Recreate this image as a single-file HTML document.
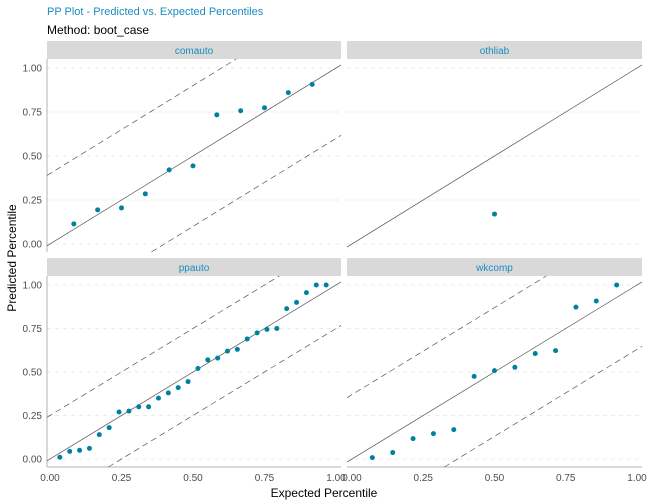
<!DOCTYPE html>
<html><head><meta charset="utf-8"><style>
html,body{margin:0;padding:0;background:#fff;font-family:"Liberation Sans",sans-serif;width:648px;height:504px;overflow:hidden;position:relative}
svg{display:block;position:absolute;left:0;top:0;overflow:hidden}
</style></head><body>
<svg id="chart" width="648" height="504" viewBox="0 0 648 504" xmlns="http://www.w3.org/2000/svg" font-family="Liberation Sans, sans-serif">
<text x="47" y="15" font-size="11" fill="#1a8cbf">PP Plot - Predicted vs. Expected Percentiles</text>
<text x="47" y="34" font-size="12" fill="#000">Method: boot_case</text>
<text x="324" y="497" font-size="12" text-anchor="middle" fill="#000">Expected Percentile</text>
<text transform="translate(16,258) rotate(-90)" font-size="12" text-anchor="middle" fill="#000">Predicted Percentile</text>
</svg>
<script>
const panelNames = ["comauto","othliab","ppauto","wkcomp"];
const bandOffsets = [0.40, null, 0.25, 0.37];
const yTicks = [0, 0.25, 0.5, 0.75, 1];
const yTickLabels = ["0.00","0.25","0.50","0.75","1.00"];
const xTickLabels = ["0.00","0.25","0.50","0.75","1.00"];
const comautoX = [1/12,2/12,3/12,4/12,5/12,6/12,7/12,8/12,9/12,10/12,11/12];
const comautoY = [0.114,0.194,0.205,0.285,0.421,0.444,0.734,0.757,0.774,0.860,0.907];
const othliabX = [0.5];
const othliabY = [0.17];
const ppautoX = Array.from({length:28},(_, i)=>(i+1)/29);
const ppautoY = [0.01,0.044,0.05,0.061,0.14,0.18,0.27,0.275,0.30,0.30,0.35,0.38,0.41,0.445,0.52,0.57,0.58,0.62,0.63,0.69,0.725,0.745,0.75,0.864,0.90,0.956,1.0,1.0];
const wkcompX = Array.from({length:13},(_, i)=>(i+1)/14);
const wkcompY = [0.008,0.037,0.117,0.146,0.169,0.475,0.508,0.527,0.606,0.623,0.873,0.908,1.0];
const seriesX = [comautoX, othliabX, ppautoX, wkcompX];
const seriesY = [comautoY, othliabY, ppautoY, wkcompY];

const svg = document.getElementById('chart');
const NS = 'http://www.w3.org/2000/svg';
function mk(tag, attrs, parent){const e=document.createElementNS(NS,tag);for(const k in attrs)e.setAttribute(k,attrs[k]);(parent||svg).appendChild(e);return e;}
const panels = [
 {l:47,r:341,t:59,b:252,sy:41,x0:50,x1:336,y0:244,y1:68},
 {l:347,r:642,t:59,b:252,sy:41,x0:352,x1:637,y0:244,y1:68},
 {l:47,r:341,t:276,b:467,sy:258,x0:50,x1:336,y0:459,y1:285},
 {l:347,r:642,t:276,b:467,sy:258,x0:352,x1:637,y0:459,y1:285}
];
panels.forEach((p,pi)=>{
  const g = mk('g',{});
  
  
  const sx = v => p.x0 + v*(p.x1-p.x0);
  const sy = v => p.y0 + v*(p.y1-p.y0);
  const ix = px => (px-p.x0)/(p.x1-p.x0);
  const iy = py => (py-p.y0)/(p.y1-p.y0);
  const xa = ix(p.l), xb = ix(p.r), ya = iy(p.b), yb = iy(p.t);
  const strip = mk('rect',{x:p.l,y:p.sy,width:p.r-p.l,height:18,fill:'#d9d9d9'},g);
  
  
  const st = mk('text',{x:(p.l+p.r)/2,y:p.sy+13,'font-size':10,'text-anchor':'middle',fill:'#1a8cbf'},g);
  st.textContent = panelNames[pi];
  
  
  yTicks.forEach((v,i)=>{
    const gl = mk('line',{x1:p.l,x2:p.r,y1:sy(v),y2:sy(v),stroke:'#ebebeb','stroke-dasharray':'4,4'},g);
    
    
    if(pi%2===0){
      const tl = mk('text',{x:p.l-5,y:sy(v)+3.5,'font-size':10,'text-anchor':'end',fill:'#4d4d4d'},g);
      tl.textContent = yTickLabels[i];
      
      
    }
    if(pi>=2){
      const xl = mk('text',{x:sx(v),y:p.b+14,'font-size':10,'text-anchor':'middle',fill:'#4d4d4d'},g);
      xl.textContent = xTickLabels[i];
      
      
    }
  });
  if(pi%2===0) mk('line',{x1:p.l,x2:p.l,y1:p.t,y2:p.b,stroke:'#b3b3b3'},g);
  if(pi>=2) mk('line',{x1:p.l,x2:p.r,y1:p.b,y2:p.b,stroke:'#b3b3b3'},g);
  function diagLine(d, dashed){
    const xs = Math.max(xa, ya - d), xe = Math.min(xb, yb - d);
    if (xe <= xs) return null;
    const attrs = {x1:sx(xs),y1:sy(xs+d),x2:sx(xe),y2:sy(xe+d),stroke:'#555','stroke-width':0.7};
    if (dashed) attrs['stroke-dasharray'] = '6,4';
    return mk('line', attrs, g);
  }
  const diag = diagLine(0, false);
  
  
  const o = bandOffsets[pi];
  if(o!==null){
    [o,-o].forEach(d=>{
      const bl = diagLine(d, true);
      if (!bl) return;
      
      
    });
  }
  seriesX[pi].forEach((xv,i)=>{
    const c = mk('circle',{cx:sx(xv),cy:sy(seriesY[pi][i]),r:2.5,fill:'#00829f'},g);
    
    
  });
});
</script>
</body></html>
